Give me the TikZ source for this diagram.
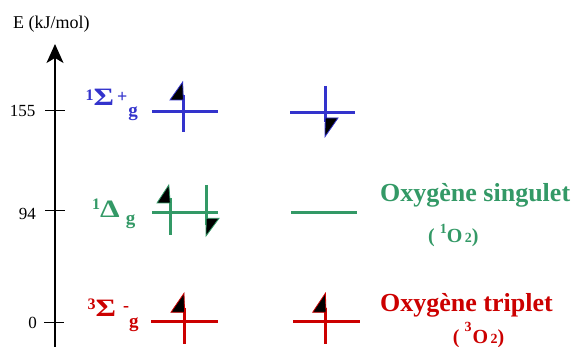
\documentclass[tikz,border=0pt]{standalone}
\usepackage{fontspec}
\usepackage{graphicx}
\setmainfont{Liberation Serif}
\usetikzlibrary{arrows.meta}
\definecolor{cblue}{RGB}{51,51,204}
\definecolor{cgreen}{RGB}{51,153,102}
\definecolor{cred}{RGB}{204,0,0}
\newcommand{\fs}[1]{\fontsize{#1}{#1}\selectfont}
\newcommand{\bigsym}[1]{\scalebox{1.25}[1]{\fs{25}#1}}
\begin{document}
\begin{tikzpicture}[x=1pt,y=-1pt,
  lvl/.style={line width=3pt},
  halfhead/.style={fill=black,line width=0.8pt,line join=miter},
  txt/.style={inner sep=0pt,anchor=base west},
  ticklab/.style={inner sep=0pt,anchor=base east,font=\fs{17}},
  tick/.style={line width=1pt}]
\useasboundingbox (0,0) rectangle (575,347);
% axis
\coordinate (axb) at (55,347);
\coordinate (axt) at (55,44);
\draw[line width=1.3pt,-{Stealth[length=19pt,width=17pt,inset=5pt]}] (axb) -- (axt);
\node[txt,font=\fs{18}] (ylab) at (13,29) {E (kJ/mol)};
\draw[tick] (45,111) -- (65,111);
\draw[tick] (45,211) -- (65,211);
\draw[tick] (44,322) -- (64,322);
\node[ticklab] (v155) at (35.5,117) {155};
\node[ticklab] (v94) at (36,220) {94};
\node[ticklab] (v0) at (37,328) {0};
% blue levels
\draw[lvl,cblue] (152,111.5) -- (218,111.5);
\draw[lvl,cblue] (183,132) -- (183,95);
\filldraw[halfhead,draw=cblue] (182.7,82) -- (170,100) -- (183.3,100) -- cycle;
\draw[lvl,cblue] (290,112.5) -- (355,112.5);
\draw[lvl,cblue] (325.7,86) -- (325.7,122);
\filldraw[halfhead,draw=cblue] (325.2,118) -- (338,118) -- (325,136.7) -- cycle;
% green levels
\draw[lvl,cgreen] (152,212.7) -- (218,212.7);
\draw[lvl,cgreen] (170,198) -- (170,235);
\filldraw[halfhead,draw=cgreen] (168.8,185) -- (157,203) -- (170.3,203) -- cycle;
\draw[lvl,cgreen] (206.7,185) -- (206.7,225);
\filldraw[halfhead,draw=cgreen] (206.2,218.3) -- (219,218.3) -- (206,236) -- cycle;
\draw[lvl,cgreen] (291,212.7) -- (356.7,212.7);
% red levels
\draw[lvl,cred] (151,321.7) -- (217.7,321.7);
\draw[lvl,cred] (184.3,307.7) -- (184.3,344);
\filldraw[halfhead,draw=cred] (184,293.3) -- (171,312.3) -- (184.6,312.3) -- cycle;
\draw[lvl,cred] (293.3,321.7) -- (360,321.7);
\draw[lvl,cred] (325.7,307.7) -- (325.7,344);
\filldraw[halfhead,draw=cred] (325.4,293.3) -- (312.7,312.3) -- (326,312.3) -- cycle;
% term labels
\node[txt,text=cblue,font=\bfseries] (lsig) at (85.5,106)
  {\raisebox{5pt}{\fs{16}1}\bigsym{Σ}\hspace{3pt}\raisebox{3pt}{\fs{18}+}\hspace{1pt}\raisebox{-11pt}{\fs{19}g}};
\node[txt,text=cgreen,font=\bfseries] (ldel) at (92,218)
  {\raisebox{8pt}{\fs{16}1}\bigsym{Δ}\hspace{6pt}\raisebox{-7pt}{\fs{19}g}};
\node[txt,text=cred,font=\bfseries] (lsigm) at (87.5,316.7)
  {\raisebox{7pt}{\fs{16}3}\bigsym{Σ}\hspace{7pt}\raisebox{5pt}{\fs{18}-}\raisebox{-11pt}{\fs{19}g}};
% names
\node[txt,text=cgreen,font=\bfseries\fs{26}] (sing) at (380,201.7) {Oxygène singulet};
\node[txt,text=cgreen,font=\bfseries\fs{20}] (singf) at (428,242.3)
  {(\hspace{5pt}\raisebox{9pt}{\fs{14}1}O\hspace{2.5pt}{\fs{14}2})};
\node[txt,text=cred,font=\bfseries\fs{20}] (tripf) at (452.7,343)
  {(\hspace{5pt}\raisebox{12pt}{\fs{14}3}\hspace{1pt}O\hspace{2.5pt}{\fs{14}2})};
\node[txt,text=cred,font=\bfseries\fs{26}] (trip) at (380,311.7) {Oxygène triplet};
\end{tikzpicture}
\end{document}
